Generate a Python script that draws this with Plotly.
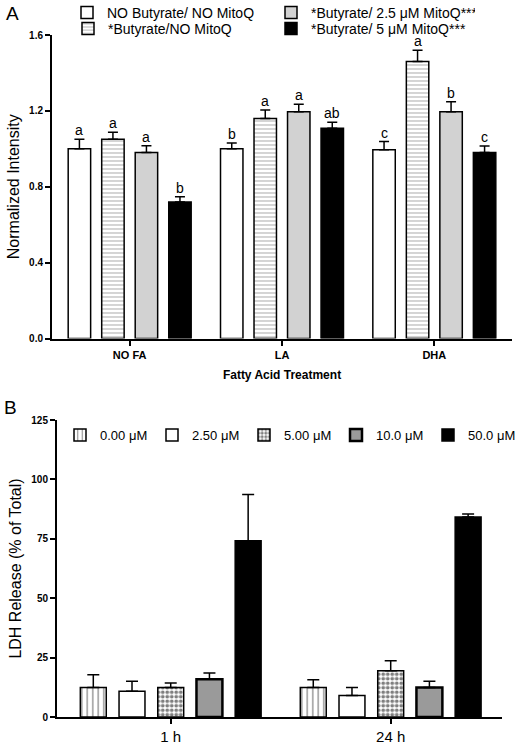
import plotly.graph_objects as go

# ---------------- Panel A data ----------------
fa_categories = ["NO FA", "LA", "DHA"]
a_series_names = ["NO Butyrate/ NO MitoQ", "*Butyrate/NO MitoQ",
                  "*Butyrate/ 2.5 \u03bcM MitoQ***", "*Butyrate/ 5 \u03bcM MitoQ***"]
a_no_but = [1.00, 1.00, 0.995]
a_no_but_err = [0.05, 0.03, 0.043]
a_but = [1.05, 1.16, 1.46]
a_but_err = [0.037, 0.045, 0.06]
a_mito25 = [0.98, 1.195, 1.195]
a_mito25_err = [0.036, 0.04, 0.053]
a_mito5 = [0.72, 1.108, 0.98]
a_mito5_err = [0.027, 0.032, 0.035]
a_letters = [["a", "b", "c"], ["a", "a", "a"], ["a", "a", "b"], ["b", "ab", "c"]]
a_ticks = [0.0, 0.4, 0.8, 1.2, 1.6]

# ---------------- Panel B data ----------------
time_categories = ["1 h", "24 h"]
b_series_names = ["0.00 \u03bcM", "2.50 \u03bcM", "5.00 \u03bcM", "10.0 \u03bcM", "50.0 \u03bcM"]
b_000 = [12.4, 12.4]
b_000_err = [5.4, 3.3]
b_250 = [10.8, 9.0]
b_250_err = [4.2, 3.4]
b_500 = [12.4, 19.5]
b_500_err = [1.9, 4.2]
b_100 = [15.9, 12.4]
b_100_err = [2.6, 2.6]
b_500b = [74.2, 84.2]
b_500b_err = [19.4, 1.2]
b_ticks = [0, 25, 50, 75, 100, 125]

FONT = "Arial, Liberation Sans, sans-serif"
W, H = 515, 744
BARGAP = 0.12
GROUPGAP = 0.33


def px_x(p):
    return p / W


def px_y(p):
    return 1 - p / H


fig = go.Figure()

a_vals = [a_no_but, a_but, a_mito25, a_mito5]
a_errs = [a_no_but_err, a_but_err, a_mito25_err, a_mito5_err]
a_styles = [
    dict(color="white", pattern=None, lw=1.5),
    dict(color="white", pattern=dict(shape="-", fgcolor="#707070", size=4, solidity=0.3), lw=1.5),
    dict(color="#d2d2d2", pattern=None, lw=1.5),
    dict(color="black", pattern=None, lw=1.5),
]
# legend rows: row 1 = series 0 and 2, row 2 = series 1 and 3
a_legend = ["legend", "legend2", "legend", "legend2"]

for k, (name, v, e, st) in enumerate(zip(a_series_names, a_vals, a_errs, a_styles)):
    marker = dict(color=st["color"], line=dict(color="black", width=st["lw"]))
    if st["pattern"]:
        marker["pattern"] = st["pattern"]
    fig.add_trace(go.Bar(
        x=fa_categories, y=v, name=name, marker=marker,
        error_y=dict(type="data", array=e, arrayminus=[0] * len(e), symmetric=False,
                     color="black", thickness=1.5, width=5),
        xaxis="x", yaxis="y", legend=a_legend[k],
    ))

n_a = len(a_vals)
for k in range(n_a):
    off = (k - (n_a - 1) / 2) * (1 - BARGAP) / n_a
    for i, cat in enumerate(fa_categories):
        fig.add_annotation(
            x=i + off, y=a_vals[k][i] + a_errs[k][i], xref="x", yref="y",
            text=a_letters[k][i], showarrow=False, yanchor="bottom", yshift=0,
            borderpad=0, font=dict(family=FONT, size=14, color="black"),
        )

b_vals = [b_000, b_250, b_500, b_100, b_500b]
b_errs = [b_000_err, b_250_err, b_500_err, b_100_err, b_500b_err]
b_styles = [
    dict(color="white", pattern=dict(shape="|", fgcolor="black", size=5.5, solidity=0.22), lw=1.5),
    dict(color="white", pattern=None, lw=1.5),
    dict(color="white", pattern=dict(shape=".", fgcolor="black", size=4.5, solidity=0.55), lw=1.5),
    dict(color="#9a9a9a", pattern=None, lw=2.5),
    dict(color="black", pattern=None, lw=1.5),
]
for name, v, e, st in zip(b_series_names, b_vals, b_errs, b_styles):
    marker = dict(color=st["color"], line=dict(color="black", width=st["lw"]))
    if st["pattern"]:
        marker["pattern"] = st["pattern"]
    fig.add_trace(go.Bar(
        x=time_categories, y=v, name=name, marker=marker,
        error_y=dict(type="data", array=e, arrayminus=[0] * len(e), symmetric=False,
                     color="black", thickness=1.5, width=6),
        xaxis="x2", yaxis="y2", legend="legend3",
    ))

axis_common = dict(showline=True, linecolor="black", linewidth=2, ticks="outside",
                   ticklen=5, tickwidth=2, tickcolor="black", showgrid=False,
                   zeroline=False, automargin=False)

legend_common = dict(xanchor="left", yanchor="top", orientation="h",
                     bgcolor="rgba(0,0,0,0)", entrywidthmode="pixels",
                     traceorder="normal")

fig.update_layout(
    width=W, height=H,
    margin=dict(l=0, r=0, t=0, b=0, autoexpand=False),
    paper_bgcolor="white", plot_bgcolor="white",
    barmode="group", bargap=BARGAP, bargroupgap=GROUPGAP,
    font=dict(family=FONT, color="black"),
    xaxis=dict(domain=[px_x(52), px_x(512)], anchor="y", range=[-0.51, 2.51],
               tickfont=dict(family=FONT, size=11, weight="bold"),
               title=dict(text="Fatty Acid Treatment",
                          font=dict(family=FONT, size=12, weight="bold"), standoff=11),
               **axis_common),
    yaxis=dict(domain=[px_y(338.5), px_y(35)], anchor="x", range=[0, 1.6],
               tickvals=a_ticks, tickformat=".1f",
               tickfont=dict(family=FONT, size=10, weight="bold"),
               title=dict(text="Normalized Intensity", font=dict(family=FONT, size=16),
                          standoff=5),
               **axis_common),
    xaxis2=dict(domain=[px_x(57), px_x(502)], anchor="y2", range=[-0.517, 1.506],
                tickfont=dict(family=FONT, size=15),
                **axis_common),
    yaxis2=dict(domain=[px_y(717), px_y(420)], anchor="x2", range=[0, 125],
                tickvals=b_ticks,
                tickfont=dict(family=FONT, size=10, weight="bold"),
                title=dict(text="LDH Release (% of Total)", font=dict(family=FONT, size=16),
                           standoff=6),
                **axis_common),
    legend=dict(x=px_x(67), y=px_y(-3), font=dict(family=FONT, size=14),
                entrywidth=159, **legend_common),
    legend2=dict(x=px_x(68), y=px_y(13), font=dict(family=FONT, size=14),
                 entrywidth=158, **legend_common),
    legend3=dict(x=px_x(60), y=px_y(420), font=dict(family=FONT, size=13),
                 entrywidth=47, **legend_common),
)

fig.add_annotation(x=px_x(4), y=px_y(14), xref="paper", yref="paper", text="A",
                   showarrow=False, xanchor="left", yanchor="middle",
                   font=dict(family=FONT, size=19))
fig.add_annotation(x=px_x(2), y=px_y(408), xref="paper", yref="paper", text="B",
                   showarrow=False, xanchor="left", yanchor="middle",
                   font=dict(family=FONT, size=19))

fig.write_html("out.html", config={"displayModeBar": False},
               post_script="document.body.style.margin='0px';")
